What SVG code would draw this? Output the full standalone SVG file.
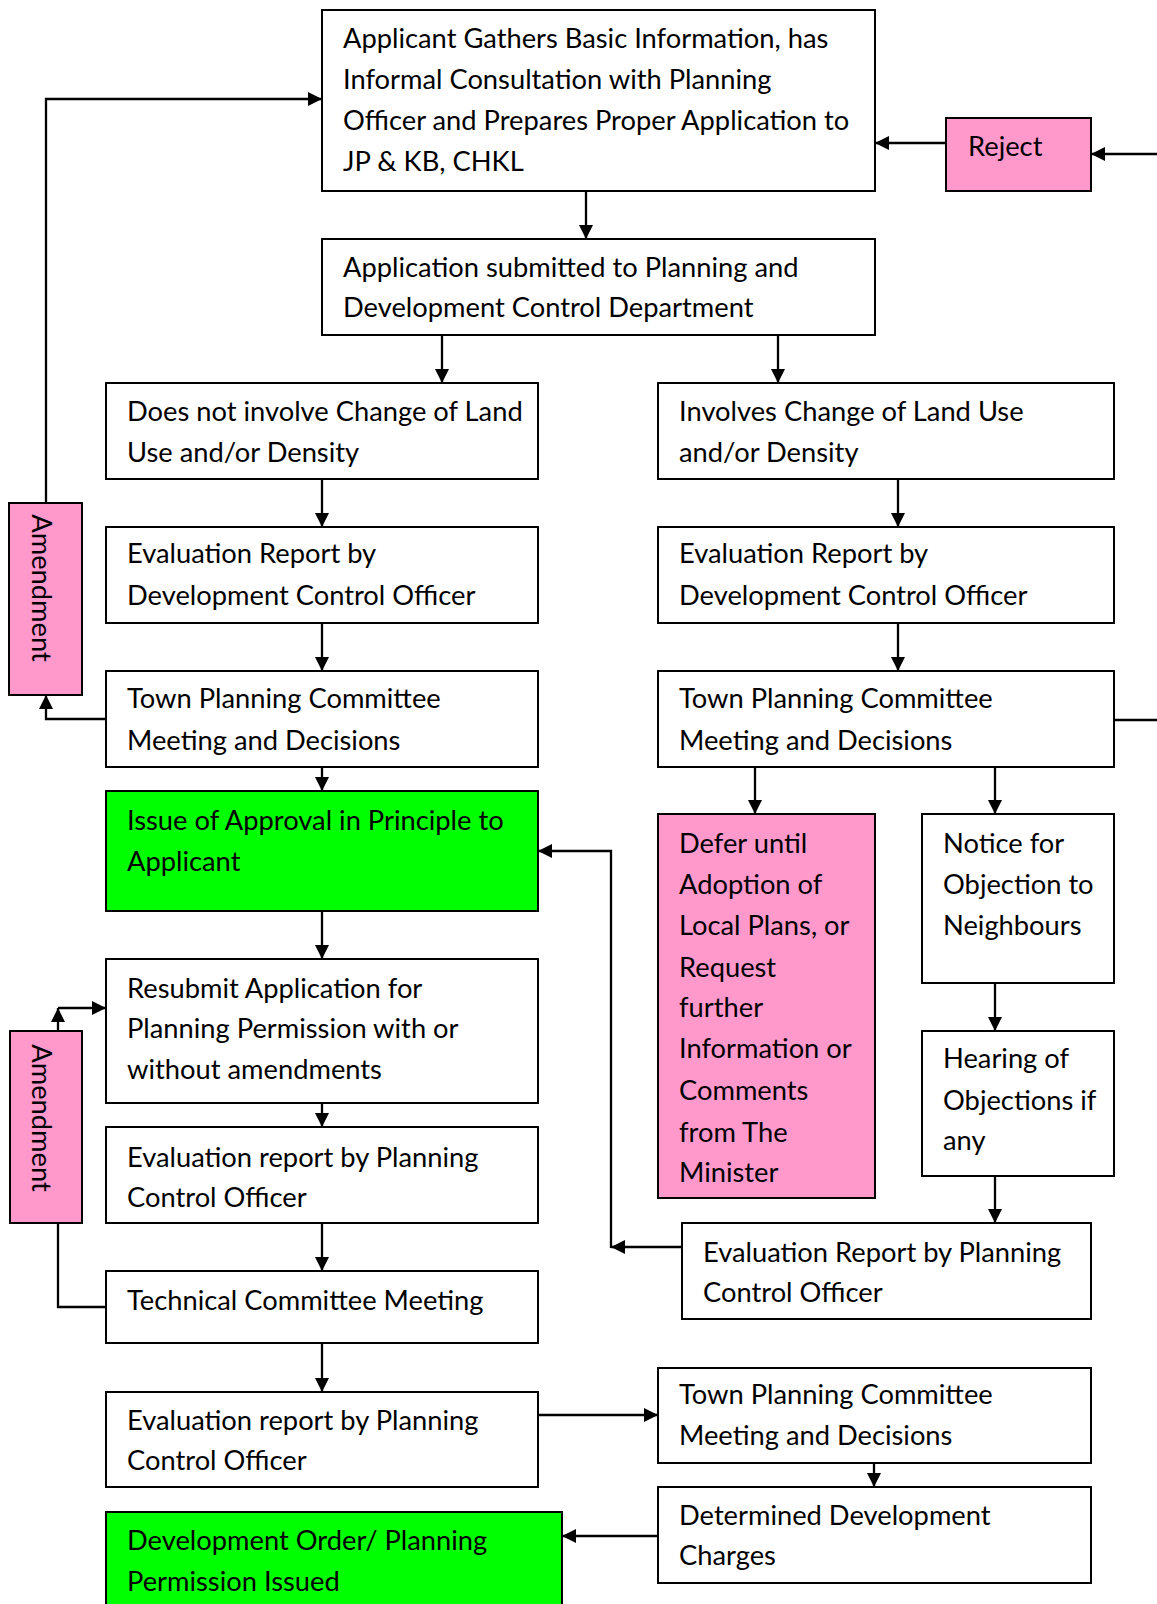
<svg xmlns="http://www.w3.org/2000/svg" width="1157" height="1604" viewBox="0 0 1157 1604">
<defs>
<marker id="ah" markerUnits="userSpaceOnUse" markerWidth="15" markerHeight="15" refX="14" refY="7" orient="auto">
<path d="M0,0 L14,7 L0,14 z" fill="#000"/>
</marker>
<style>
.box{fill:#fff;stroke:#000;stroke-width:2}
.pink{fill:#ff99cc;stroke:#000;stroke-width:2}
.green{fill:#00ff00;stroke:#000;stroke-width:2}
text{font-family:Lato,"Open Sans","Liberation Sans",sans-serif;font-size:27.3px;fill:#000}
.c{fill:none;stroke:#000;stroke-width:2.3}
.a{marker-end:url(#ah)}
</style>
</defs>
<rect width="1157" height="1604" fill="#fff"/>
<g id="connectors">
<path class="c a" d="M586,191 V239"/>
<path class="c a" d="M946,143 H875"/>
<path class="c a" d="M1114,720 H1170 V154 H1091"/>
<path class="c a" d="M442,335 V383"/>
<path class="c a" d="M778,335 V383"/>
<path class="c a" d="M322,479 V527"/>
<path class="c a" d="M898,479 V527"/>
<path class="c a" d="M322,623 V671"/>
<path class="c a" d="M898,623 V671"/>
<path class="c a" d="M322,767 V791"/>
<path class="c a" d="M106,719 H46 V695"/>
<path class="c a" d="M46,503 V99 H322"/>
<path class="c a" d="M755,767 V814"/>
<path class="c a" d="M995,767 V814"/>
<path class="c a" d="M995,983 V1031"/>
<path class="c a" d="M995,1176 V1223"/>
<path class="c a" d="M682,1247 H611"/>
<path class="c a" d="M611,1248 V851 H538"/>
<path class="c a" d="M322,911 V959"/>
<path class="c a" d="M322,1103 V1127"/>
<path class="c a" d="M322,1223 V1271"/>
<path class="c a" d="M322,1343 V1392"/>
<path class="c a" d="M538,1415 H658"/>
<path class="c a" d="M874,1463 V1487"/>
<path class="c a" d="M658,1536 H562"/>
<path class="c" d="M106,1307 H58 V1223"/>
<path class="c a" d="M58,1031 V1008"/>
<path class="c a" d="M58,1008 H106"/>
</g>
<g id="n1"><rect class="box" x="322" y="10" width="553" height="181"/>
<text x="343" y="47.5">Applicant Gathers Basic Information, has</text>
<text x="343" y="89">Informal Consultation with Planning</text>
<text x="343" y="129.5">Officer and Prepares Proper Application to</text>
<text x="343" y="171">JP &amp; KB, CHKL</text></g>
<g id="n2"><rect class="box" x="322" y="239" width="553" height="96"/>
<text x="343" y="276.5">Application submitted to Planning and</text>
<text x="343" y="317">Development Control Department</text></g>
<g id="reject"><rect class="pink" x="946" y="118" width="145" height="73"/>
<text x="968" y="156">Reject</text></g>
<g id="n3"><rect class="box" x="106" y="383" width="432" height="96"/>
<text x="127" y="421">Does not involve Change of Land</text>
<text x="127" y="462">Use and/or Density</text></g>
<g id="n4"><rect class="box" x="658" y="383" width="456" height="96"/>
<text x="679" y="421">Involves Change of Land Use</text>
<text x="679" y="462">and/or Density</text></g>
<g id="n5"><rect class="box" x="106" y="527" width="432" height="96"/>
<text x="127" y="563">Evaluation Report by</text>
<text x="127" y="605">Development Control Officer</text></g>
<g id="n6"><rect class="box" x="658" y="527" width="456" height="96"/>
<text x="679" y="563">Evaluation Report by</text>
<text x="679" y="605">Development Control Officer</text></g>
<g id="n7"><rect class="box" x="106" y="671" width="432" height="96"/>
<text x="127" y="708">Town Planning Committee</text>
<text x="127" y="750">Meeting and Decisions</text></g>
<g id="n8"><rect class="box" x="658" y="671" width="456" height="96"/>
<text x="679" y="708">Town Planning Committee</text>
<text x="679" y="750">Meeting and Decisions</text></g>
<g id="amend1"><rect class="pink" x="9" y="503" width="73" height="192"/>
<text transform="translate(32,588) rotate(90)" text-anchor="middle">Amendment</text></g>
<g id="n9"><rect class="green" x="106" y="791" width="432" height="120"/>
<text x="127" y="830">Issue of Approval in Principle to</text>
<text x="127" y="871">Applicant</text></g>
<g id="n10"><rect class="pink" x="658" y="814" width="217" height="384"/>
<text x="679" y="853">Defer until</text>
<text x="679" y="894">Adoption of</text>
<text x="679" y="935">Local Plans, or</text>
<text x="679" y="977">Request</text>
<text x="679" y="1017">further</text>
<text x="679" y="1058">Information or</text>
<text x="679" y="1100">Comments</text>
<text x="679" y="1142">from The</text>
<text x="679" y="1182">Minister</text></g>
<g id="n11"><rect class="box" x="922" y="814" width="192" height="169"/>
<text x="943" y="853">Notice for</text>
<text x="943" y="894">Objection to</text>
<text x="943" y="935">Neighbours</text></g>
<g id="n12"><rect class="box" x="922" y="1031" width="192" height="145"/>
<text x="943" y="1068">Hearing of</text>
<text x="943" y="1110">Objections if</text>
<text x="943" y="1150">any</text></g>
<g id="n13"><rect class="box" x="106" y="959" width="432" height="144"/>
<text x="127" y="998">Resubmit Application for</text>
<text x="127" y="1038">Planning Permission with or</text>
<text x="127" y="1079">without amendments</text></g>
<g id="amend2"><rect class="pink" x="10" y="1031" width="72" height="192"/>
<text transform="translate(32,1118) rotate(90)" text-anchor="middle">Amendment</text></g>
<g id="n14"><rect class="box" x="106" y="1127" width="432" height="96"/>
<text x="127" y="1167">Evaluation report by Planning</text>
<text x="127" y="1207">Control Officer</text></g>
<g id="n15"><rect class="box" x="682" y="1223" width="409" height="96"/>
<text x="703" y="1262">Evaluation Report by Planning</text>
<text x="703" y="1302">Control Officer</text></g>
<g id="n16"><rect class="box" x="106" y="1271" width="432" height="72"/>
<text x="127" y="1310">Technical Committee Meeting</text></g>
<g id="n17"><rect class="box" x="106" y="1392" width="432" height="95"/>
<text x="127" y="1430">Evaluation report by Planning</text>
<text x="127" y="1470">Control Officer</text></g>
<g id="n18"><rect class="box" x="658" y="1368" width="433" height="95"/>
<text x="679" y="1404">Town Planning Committee</text>
<text x="679" y="1445">Meeting and Decisions</text></g>
<g id="n19"><rect class="box" x="658" y="1487" width="433" height="96"/>
<text x="679" y="1525">Determined Development</text>
<text x="679" y="1565">Charges</text></g>
<g id="n20"><rect class="green" x="106" y="1512" width="456" height="100"/>
<text x="127" y="1550">Development Order/ Planning</text>
<text x="127" y="1591">Permission Issued</text></g>
</svg>
